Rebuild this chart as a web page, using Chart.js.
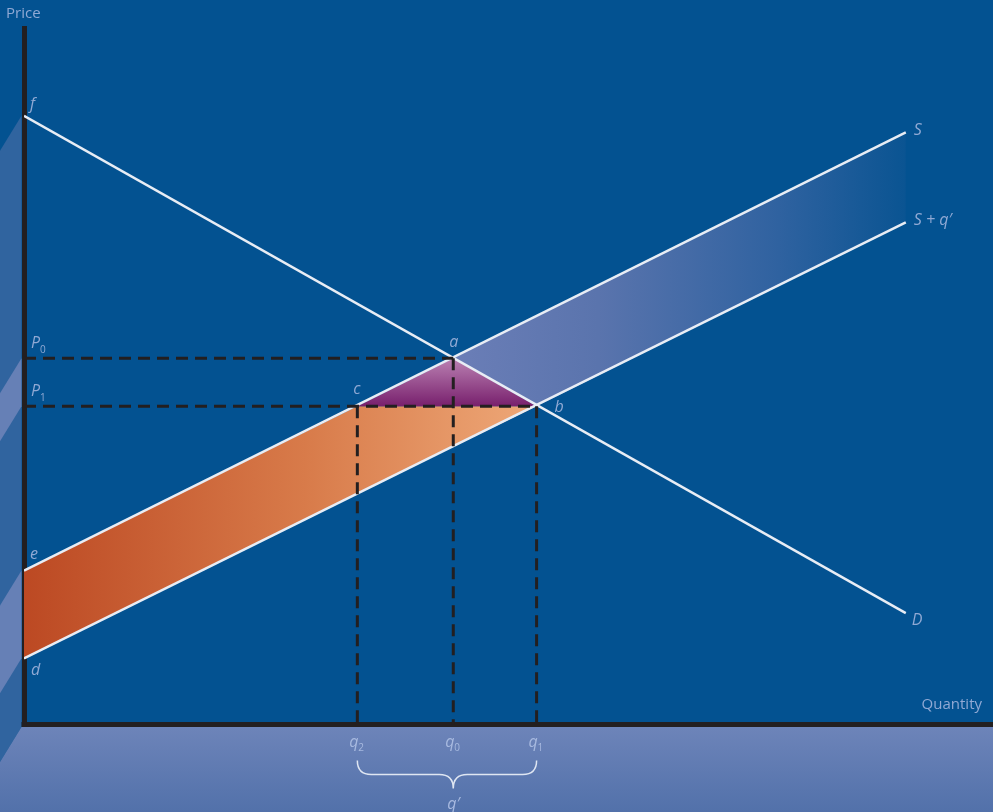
<!DOCTYPE html>
<html>
<head>
<meta charset="utf-8">
<script src="https://cdn.jsdelivr.net/npm/chart.js@4.4.1/dist/chart.umd.min.js"></script>
<style>
  html, body { margin: 0; padding: 0; background: #035291; overflow: hidden; }
</style>
</head>
<body>
<canvas id="chart" width="993" height="812"></canvas>
<script>
// values (quantity and price both on a 0-100 scale)
const curveNames = ['D', 'S', 'S + q′'];
const curveStart = [[0, 87.4], [0, 22.1], [0, 9.5]];
const curveEnd = [[91, 16], [91, 85], [91, 72.1]];

const priceNames = ['P', 'P'];
const priceSubs = ['0', '1'];
const priceValues = [52.6, 45.7];
const qtySubs = ['2', '0', '1'];
const qtyValues = [34.4, 44.3, 52.9];

// corners of the shaded areas
const gainTop = [[0, 22.1], [34.4, 45.7], [52.9, 45.7]];
const gainBottom = [[0, 9.5], [34.4, 33.2], [52.9, 45.7]];
const lossTop = [[34.4, 45.7], [44.3, 52.6], [52.9, 45.7]];
const importTop = [[44.3, 52.6], [52.9, 58.7], [91, 85]];
const importBottom = [[44.3, 52.6], [52.9, 45.7], [91, 72.1]];

const AXIS = '#231f20';
const LINE = '#e8edf5';
const LABEL = '#90a9d4';

const pts = arr => arr.map(p => ({ x: p[0], y: p[1] }));

function orangeFill(ctx) {
  const chart = ctx.chart;
  if (!chart.chartArea) return '#d06a3a';
  const x = chart.scales.x;
  const g = chart.ctx.createLinearGradient(x.getPixelForValue(0), 0, x.getPixelForValue(qtyValues[2]), 0);
  g.addColorStop(0, '#bc4923');
  g.addColorStop(0.55, '#d87b4a');
  g.addColorStop(1, '#eea878');
  return g;
}

function purpleFill(ctx) {
  const chart = ctx.chart;
  if (!chart.chartArea) return '#9a4a90';
  const y = chart.scales.y;
  const g = chart.ctx.createLinearGradient(0, y.getPixelForValue(priceValues[0]), 0, y.getPixelForValue(priceValues[1]));
  g.addColorStop(0, '#bb82b3');
  g.addColorStop(1, '#78206d');
  return g;
}

function blueFill(ctx) {
  const chart = ctx.chart;
  if (!chart.chartArea) return '#4a6fa8';
  const x = chart.scales.x;
  const g = chart.ctx.createLinearGradient(x.getPixelForValue(qtyValues[1]), 0, x.getPixelForValue(91), 0);
  g.addColorStop(0, '#6b7eb7');
  g.addColorStop(0.32, '#5a74ad');
  g.addColorStop(0.72, '#2f62a0');
  g.addColorStop(1, '#0a5492');
  return g;
}

const solid = (data, order) => ({
  data: pts(data), borderColor: LINE, borderWidth: 2.5, pointRadius: 0, fill: false, order: order
});
const dashed = data => ({
  data: pts(data), borderColor: AXIS, borderWidth: 3, borderDash: [12, 7], pointRadius: 0, fill: false, order: 0
});
const edge = data => ({ data: pts(data), borderWidth: 0, pointRadius: 0, fill: false, order: 5 });

const datasets = [
  // 0-2 curves
  solid([curveStart[0], curveEnd[0]], 1),
  solid([curveStart[1], curveEnd[1]], 1),
  solid([curveStart[2], curveEnd[2]], 1),
  // 3-7 guides
  dashed([[0, priceValues[0]], [qtyValues[1], priceValues[0]]]),
  dashed([[0, priceValues[1]], [qtyValues[2], priceValues[1]]]),
  dashed([[qtyValues[0], priceValues[1]], [qtyValues[0], 0]]),
  dashed([[qtyValues[1], priceValues[0]], [qtyValues[1], 0]]),
  dashed([[qtyValues[2], priceValues[1]], [qtyValues[2], 0]]),
  // 8-9 orange band
  { data: pts(gainTop), borderWidth: 0, pointRadius: 0, fill: '+1', backgroundColor: orangeFill, order: 4 },
  edge(gainBottom),
  // 10 purple triangle
  { data: pts(lossTop), borderWidth: 0, pointRadius: 0, fill: { value: priceValues[1] }, backgroundColor: purpleFill, order: 3 },
  // 11-12 blue band
  { data: pts(importTop), borderWidth: 0, pointRadius: 0, fill: '+1', backgroundColor: blueFill, order: 4 },
  edge(importBottom)
];

const backdrop = {
  id: 'backdrop',
  beforeDraw(chart) {
    const { ctx, width, height, scales: { x, y } } = chart;
    const wallX = x.getPixelForValue(0) - 2.5;
    const floorY = y.getPixelForValue(0) + 2.5;
    const depth = 35;
    ctx.save();
    ctx.fillStyle = '#035291';
    ctx.fillRect(0, 0, width, height);

    const poly = (p, color) => {
      ctx.beginPath();
      ctx.moveTo(p[0][0], p[0][1]);
      for (let i = 1; i < p.length; i++) ctx.lineTo(p[i][0], p[i][1]);
      ctx.closePath();
      ctx.fillStyle = color;
      ctx.fill();
    };
    // left wall
    const fY = y.getPixelForValue(curveStart[0][1]);
    poly([[wallX, fY], [wallX, floorY], [0, floorY + depth], [0, fY + depth]], '#30649f');
    const p0 = y.getPixelForValue(priceValues[0]), p1 = y.getPixelForValue(priceValues[1]);
    poly([[wallX, p0], [wallX, p1], [0, p1 + depth], [0, p0 + depth]], '#6680b6');
    const eY = y.getPixelForValue(curveStart[1][1]), dY = y.getPixelForValue(curveStart[2][1]);
    poly([[wallX, eY], [wallX, dY], [0, dY + depth], [0, eY + depth]], '#6680b6');
    // floor
    const g = ctx.createLinearGradient(0, floorY, 0, height);
    g.addColorStop(0, '#6d84b9');
    g.addColorStop(1, '#5271aa');
    poly([[wallX, floorY], [width, floorY], [width, height], [0, height], [0, floorY + depth]], g);
    ctx.restore();
  },
  afterDraw(chart) {
    const { ctx, scales: { x, y } } = chart;
    const X = v => x.getPixelForValue(v), Y = v => y.getPixelForValue(v);
    ctx.save();
    // close the axis corner
    ctx.fillStyle = AXIS;
    ctx.fillRect(X(0) - 2.5, Y(0) - 2.5, 5, 5);

    ctx.fillStyle = LABEL;
    ctx.textBaseline = 'alphabetic';
    ctx.font = '15px "Open Sans", sans-serif';
    ctx.textAlign = 'left';
    ctx.fillText('Price', 6, 18);
    ctx.textAlign = 'right';
    ctx.fillText('Quantity', 982, 709);
    ctx.textAlign = 'left';

    const it = '16px "Open Sans", sans-serif';
    const txt = (s, px, py) => { ctx.font = 'italic ' + it; ctx.fillText(s, px, py); };
    const sub = (s, px, py) => { ctx.font = '10px "Open Sans", sans-serif'; ctx.fillText(s, px, py); };

    txt('f', X(0) + 6, Y(curveStart[0][1]) - 7);
    priceValues.forEach((v, i) => {
      txt(priceNames[i], X(0) + 7, Y(v) - 10);
      sub(priceSubs[i], X(0) + 16, Y(v) - 5);
    });
    txt('e', X(0) + 6, Y(curveStart[1][1]) - 12);
    txt('d', X(0) + 7, Y(curveStart[2][1]) + 17);
    txt('c', X(qtyValues[0]) - 4, Y(priceValues[1]) - 12);
    txt('a', X(qtyValues[1]) - 4, Y(priceValues[0]) - 11);
    txt('b', X(qtyValues[2]) + 18, Y(priceValues[1]) + 6);
    txt(curveNames[1], X(curveEnd[1][0]) + 8, Y(curveEnd[1][1]) + 3);
    txt(curveNames[2], X(curveEnd[2][0]) + 8, Y(curveEnd[2][1]) + 3);
    txt(curveNames[0], X(curveEnd[0][0]) + 6, Y(curveEnd[0][1]) + 12);

    // quantity labels on the floor
    ctx.fillStyle = '#a7b9df';
    const base = Y(0) + 22;
    qtyValues.forEach((v, i) => {
      txt('q', X(v) - 8, base);
      sub(qtySubs[i], X(v) + 1, base + 4);
    });
    // brace
    const l = X(qtyValues[0]), r = X(qtyValues[2]), m = X(qtyValues[1]);
    const top = Y(0) + 36, mid = top + 14, tip = top + 28;
    ctx.strokeStyle = '#dfe6f2';
    ctx.lineWidth = 1.5;
    ctx.beginPath();
    ctx.moveTo(l, top);
    ctx.quadraticCurveTo(l, mid, l + 14, mid);
    ctx.lineTo(m - 14, mid);
    ctx.quadraticCurveTo(m, mid, m, tip);
    ctx.quadraticCurveTo(m, mid, m + 14, mid);
    ctx.lineTo(r - 14, mid);
    ctx.quadraticCurveTo(r, mid, r, top);
    ctx.stroke();
    ctx.fillStyle = '#a7b9df';
    txt('q′', m - 6, Y(0) + 84);
    ctx.restore();
  }
};

new Chart(document.getElementById('chart'), {
  type: 'line',
  data: { datasets: datasets },
  options: {
    responsive: false,
    animation: false,
    layout: { padding: { left: 24, top: 28, right: 0, bottom: 87.5 } },
    plugins: { legend: { display: false }, tooltip: { enabled: false }, title: { display: false } },
    elements: { line: { tension: 0 } },
    scales: {
      x: {
        type: 'linear', min: 0, max: 100, z: 1,
        grid: { display: false, drawTicks: false },
        ticks: { display: false },
        border: { display: true, color: AXIS, width: 5 }
      },
      y: {
        type: 'linear', min: 0, max: 100, z: 1,
        grid: { display: false, drawTicks: false },
        ticks: { display: false },
        border: { display: true, color: AXIS, width: 5 }
      }
    }
  },
  plugins: [backdrop]
});
</script>
</body>
</html>
